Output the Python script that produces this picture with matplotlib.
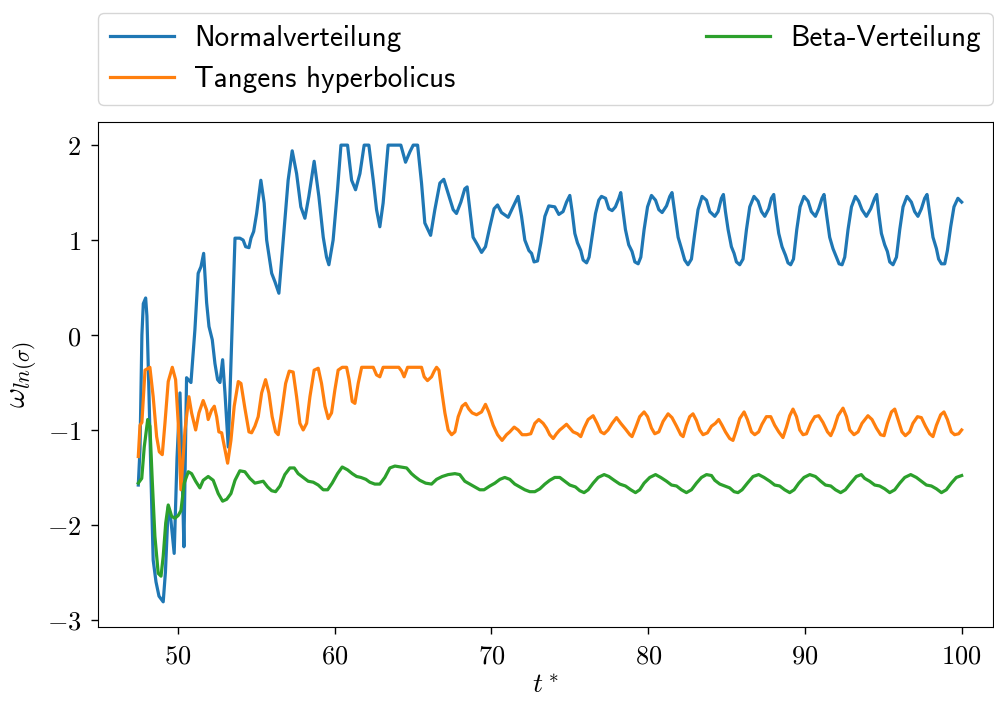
import matplotlib
matplotlib.use("Agg")
import matplotlib.pyplot as plt
from matplotlib.ticker import FuncFormatter

plt.rcParams['mathtext.fontset'] = 'cm'

# omega_ln(sigma) over t* for the three activation variants
t_normal = [47.47, 47.58, 47.70, 47.79, 47.94, 48.02, 48.15, 48.28, 48.42, 48.60,
            48.79, 49.06, 49.20, 49.38, 49.55, 49.76, 49.94, 50.13, 50.26, 50.38,
            50.55, 50.83, 51.08, 51.29, 51.47, 51.64, 51.83, 51.98, 52.19, 52.36,
            52.53, 52.68, 52.85, 53.00, 53.21, 53.42, 53.64, 53.95, 54.16, 54.32,
            54.53, 54.66, 54.83, 55.02, 55.29, 55.50, 55.66, 55.98, 56.19, 56.44,
            56.72, 57.03, 57.29, 57.57, 57.84, 58.10, 58.35, 58.69, 58.99, 59.27,
            59.48, 59.63, 59.90, 60.18, 60.40, 60.82, 61.08, 61.33, 61.61, 61.88,
            62.18, 62.46, 62.67, 62.88, 63.09, 63.41, 64.22, 64.52, 64.80, 65.01,
            65.29, 65.54, 65.75, 65.92, 66.12, 66.39, 66.71, 66.96, 67.24, 67.56,
            67.77, 68.05, 68.30, 68.45, 68.62, 68.83, 69.11, 69.37, 69.62, 69.90,
            70.17, 70.39, 70.64, 71.07, 71.38, 71.70, 71.92, 72.13, 72.39, 72.56,
            72.72, 72.94, 73.15, 73.41, 73.66, 74.04, 74.30, 74.57, 74.79, 75.00,
            75.15, 75.32, 75.49, 75.70, 75.85, 76.07, 76.23, 76.42, 76.64, 76.85,
            77.02, 77.28, 77.49, 77.70, 77.91, 78.13, 78.25, 78.40, 78.55, 78.76,
            78.97, 79.15, 79.36, 79.53, 79.74, 79.96, 80.21, 80.47, 80.68, 80.89,
            81.17, 81.38, 81.52, 81.70, 81.91, 82.16, 82.33, 82.54, 82.76, 82.97,
            83.18, 83.44, 83.72, 83.93, 84.25, 84.46, 84.67, 84.80, 84.93, 85.10,
            85.31, 85.48, 85.63, 85.84, 86.05, 86.27, 86.48, 86.75, 87.01, 87.23,
            87.44, 87.69, 87.86, 88.01, 88.14, 88.33, 88.54, 88.76, 88.92, 89.09,
            89.27, 89.48, 89.69, 89.94, 90.20, 90.41, 90.67, 90.88, 91.09, 91.22,
            91.37, 91.58, 91.79, 92.01, 92.18, 92.37, 92.54, 92.75, 92.97, 93.22,
            93.43, 93.64, 93.92, 94.20, 94.45, 94.58, 94.71, 94.88, 95.09, 95.26,
            95.41, 95.62, 95.84, 96.05, 96.26, 96.51, 96.79, 97.00, 97.21, 97.43,
            97.64, 97.79, 97.96, 98.17, 98.39, 98.53, 98.71, 98.92, 99.09, 99.30,
            99.51, 99.76, 100.0]
w_normal = [-1.58, -1.20, 0.00, 0.33, 0.39, 0.20, -0.60, -1.50, -2.37, -2.60,
            -2.75, -2.81, -2.50, -1.81, -1.95, -2.30, -1.30, -0.61, -1.40, -2.23,
            -0.45, -0.50, 0.05, 0.65, 0.72, 0.86, 0.34, 0.09, -0.05, -0.30,
            -0.47, -0.50, -0.26, -0.61, -1.18, -0.09, 1.02, 1.02, 1.00, 0.93,
            0.92, 1.02, 1.09, 1.28, 1.63, 1.39, 1.00, 0.65, 0.56, 0.44,
            1.00, 1.63, 1.94, 1.70, 1.35, 1.23, 1.46, 1.83, 1.46, 1.03,
            0.82, 0.74, 1.00, 1.53, 2.00, 2.00, 1.63, 1.53, 1.70, 2.00,
            2.00, 1.63, 1.32, 1.14, 1.39, 2.00, 2.00, 1.82, 1.93, 2.00,
            2.00, 1.60, 1.18, 1.12, 1.05, 1.32, 1.60, 1.64, 1.49, 1.32,
            1.28, 1.40, 1.54, 1.56, 1.32, 1.03, 0.95, 0.87, 0.93, 1.14,
            1.33, 1.37, 1.29, 1.24, 1.35, 1.46, 1.25, 1.00, 0.89, 0.86,
            0.77, 0.78, 0.97, 1.25, 1.36, 1.35, 1.27, 1.30, 1.40, 1.47,
            1.30, 1.07, 0.97, 0.89, 0.79, 0.76, 0.82, 1.03, 1.28, 1.42,
            1.46, 1.44, 1.33, 1.31, 1.35, 1.44, 1.50, 1.30, 1.11, 0.95,
            0.88, 0.77, 0.75, 0.82, 1.11, 1.35, 1.47, 1.42, 1.32, 1.29,
            1.36, 1.46, 1.50, 1.28, 1.03, 0.89, 0.79, 0.74, 0.80, 1.07,
            1.32, 1.46, 1.42, 1.30, 1.25, 1.30, 1.44, 1.48, 1.30, 1.11,
            0.93, 0.86, 0.77, 0.74, 0.80, 1.11, 1.35, 1.46, 1.41, 1.30,
            1.25, 1.33, 1.44, 1.48, 1.29, 1.07, 0.93, 0.84, 0.76, 0.74,
            0.80, 1.11, 1.35, 1.46, 1.41, 1.30, 1.25, 1.33, 1.44, 1.48,
            1.28, 1.03, 0.91, 0.82, 0.75, 0.74, 0.82, 1.11, 1.35, 1.46,
            1.41, 1.32, 1.25, 1.33, 1.44, 1.48, 1.28, 1.07, 0.95, 0.88,
            0.77, 0.74, 0.82, 1.11, 1.35, 1.46, 1.40, 1.30, 1.25, 1.33,
            1.44, 1.48, 1.28, 1.03, 0.91, 0.80, 0.75, 0.75, 0.89, 1.14,
            1.35, 1.44, 1.40]

t_tanh = [47.47, 47.58, 47.70, 47.90, 48.21, 48.42, 48.64, 48.81, 49.00, 49.17,
          49.38, 49.64, 49.85, 50.02, 50.19, 50.45, 50.70, 50.87, 51.13, 51.34,
          51.61, 51.83, 51.93, 52.15, 52.32, 52.47, 52.61, 52.79, 53.00, 53.17,
          53.38, 53.59, 53.85, 54.02, 54.27, 54.53, 54.70, 54.91, 55.12, 55.34,
          55.59, 55.80, 56.01, 56.23, 56.40, 56.61, 56.87, 57.10, 57.35, 57.57,
          57.78, 57.99, 58.21, 58.42, 58.69, 58.95, 59.16, 59.38, 59.59, 59.80,
          60.01, 60.22, 60.48, 60.76, 60.92, 61.12, 61.29, 61.50, 61.72, 62.46,
          62.67, 62.88, 63.09, 64.09, 64.27, 64.43, 64.65, 65.54, 65.71, 65.92,
          66.18, 66.35, 66.50, 66.65, 66.82, 67.03, 67.24, 67.46, 67.67, 67.88,
          68.13, 68.35, 68.56, 68.77, 69.05, 69.37, 69.62, 69.83, 70.11, 70.39,
          70.68, 70.96, 71.17, 71.45, 71.70, 71.96, 72.24, 72.51, 72.77, 73.02,
          73.30, 73.51, 73.72, 73.94, 74.15, 74.36, 74.51, 74.79, 75.00, 75.21,
          75.49, 75.70, 75.91, 76.17, 76.49, 76.74, 76.98, 77.19, 77.44, 77.70,
          77.98, 78.25, 78.55, 78.83, 78.97, 79.19, 79.46, 79.74, 79.96, 80.21,
          80.42, 80.68, 80.95, 81.27, 81.52, 81.81, 82.08, 82.23, 82.44, 82.65,
          82.86, 83.08, 83.29, 83.50, 83.78, 84.04, 84.29, 84.50, 84.71, 84.93,
          85.20, 85.41, 85.63, 85.84, 86.12, 86.33, 86.59, 86.80, 87.05, 87.26,
          87.54, 87.82, 88.07, 88.33, 88.60, 88.82, 89.03, 89.24, 89.46, 89.67,
          89.88, 90.10, 90.37, 90.63, 90.88, 91.15, 91.44, 91.65, 91.86, 92.11,
          92.43, 92.65, 92.86, 93.13, 93.39, 93.64, 94.02, 94.28, 94.56, 94.83,
          95.05, 95.26, 95.52, 95.73, 95.94, 96.19, 96.41, 96.68, 96.89, 97.18,
          97.43, 97.69, 97.96, 98.17, 98.39, 98.66, 98.87, 99.09, 99.34, 99.55,
          99.81, 100.0]
w_tanh = [-1.28, -0.95, -0.92, -0.37, -0.34, -0.65, -1.07, -1.23, -1.26, -0.93,
          -0.49, -0.34, -0.47, -0.93, -1.63, -1.00, -0.65, -0.82, -1.00, -0.82,
          -0.69, -0.79, -0.89, -0.79, -0.75, -0.86, -1.02, -1.03, -1.21, -1.35,
          -1.11, -0.75, -0.49, -0.51, -0.77, -1.02, -1.03, -0.96, -0.86, -0.61,
          -0.47, -0.61, -0.86, -1.02, -1.05, -0.82, -0.51, -0.38, -0.39, -0.65,
          -0.93, -1.00, -0.93, -0.65, -0.37, -0.35, -0.51, -0.75, -0.88, -0.82,
          -0.58, -0.37, -0.34, -0.34, -0.47, -0.70, -0.72, -0.51, -0.34, -0.34,
          -0.42, -0.44, -0.34, -0.34, -0.38, -0.44, -0.34, -0.34, -0.44, -0.48,
          -0.44, -0.38, -0.34, -0.37, -0.58, -0.82, -1.00, -1.05, -1.02, -0.86,
          -0.75, -0.72, -0.78, -0.82, -0.84, -0.81, -0.73, -0.81, -0.95, -1.05,
          -1.11, -1.05, -1.02, -0.97, -1.00, -1.05, -1.05, -1.04, -0.93, -0.89,
          -0.93, -0.98, -1.05, -1.09, -1.04, -1.00, -0.98, -0.94, -0.98, -1.02,
          -1.04, -1.07, -0.98, -0.89, -0.85, -0.93, -1.02, -1.04, -1.00, -0.93,
          -0.87, -0.93, -0.99, -1.05, -1.07, -0.98, -0.86, -0.81, -0.86, -0.98,
          -1.04, -1.02, -0.91, -0.83, -0.87, -0.96, -1.05, -1.07, -0.95, -0.86,
          -0.83, -0.90, -1.00, -1.05, -1.03, -0.96, -0.93, -0.89, -0.95, -1.02,
          -1.09, -1.11, -1.00, -0.88, -0.81, -0.89, -1.02, -1.05, -1.02, -0.94,
          -0.86, -0.86, -0.95, -1.02, -1.08, -0.97, -0.85, -0.78, -0.86, -1.00,
          -1.05, -1.04, -0.93, -0.86, -0.85, -0.92, -1.02, -1.06, -0.98, -0.85,
          -0.77, -0.86, -1.00, -1.05, -1.02, -0.93, -0.85, -0.89, -0.98, -1.05,
          -1.06, -0.93, -0.81, -0.78, -0.89, -1.02, -1.06, -1.02, -0.93, -0.86,
          -0.87, -0.96, -1.04, -1.07, -0.95, -0.84, -0.81, -0.89, -1.02, -1.05,
          -1.04, -1.00]

t_beta = [47.47, 47.69, 47.85, 48.07, 48.21, 48.36, 48.53, 48.74, 48.92, 49.06,
          49.22, 49.38, 49.60, 49.81, 50.02, 50.19, 50.40, 50.66, 50.87, 51.13,
          51.40, 51.61, 51.93, 52.25, 52.57, 52.85, 53.11, 53.38, 53.64, 53.95,
          54.27, 54.59, 54.91, 55.44, 55.72, 55.98, 56.23, 56.51, 56.82, 57.14,
          57.42, 57.67, 57.99, 58.31, 58.63, 58.95, 59.27, 59.55, 59.84, 60.18,
          60.48, 60.82, 61.12, 61.40, 61.67, 61.99, 62.24, 62.56, 62.88, 63.20,
          63.52, 63.84, 64.22, 64.59, 64.90, 65.11, 65.43, 65.80, 66.18, 66.50,
          66.86, 67.24, 67.67, 67.98, 68.30, 68.62, 68.94, 69.26, 69.53, 69.90,
          70.22, 70.54, 70.85, 71.17, 71.49, 71.81, 72.13, 72.45, 72.77, 73.09,
          73.41, 73.72, 74.04, 74.36, 74.68, 75.00, 75.36, 75.64, 75.91, 76.17,
          76.49, 76.81, 77.19, 77.49, 77.83, 78.19, 78.55, 78.89, 79.19, 79.46,
          79.74, 80.10, 80.47, 80.80, 81.17, 81.49, 81.81, 82.12, 82.44, 82.76,
          83.08, 83.40, 83.72, 84.04, 84.25, 84.57, 84.89, 85.20, 85.48, 85.73,
          85.99, 86.33, 86.69, 87.05, 87.39, 87.76, 88.07, 88.39, 88.71, 89.03,
          89.31, 89.61, 89.94, 90.31, 90.67, 91.01, 91.31, 91.65, 91.95, 92.28,
          92.58, 92.92, 93.28, 93.60, 93.81, 94.13, 94.45, 94.77, 95.09, 95.41,
          95.73, 96.05, 96.37, 96.75, 97.11, 97.43, 97.75, 98.07, 98.39, 98.71,
          99.02, 99.34, 99.66, 100.0]
w_beta = [-1.56, -1.51, -1.18, -0.89, -0.96, -1.53, -2.12, -2.51, -2.54, -2.33,
          -1.98, -1.79, -1.91, -1.93, -1.90, -1.85, -1.56, -1.44, -1.46, -1.54,
          -1.61, -1.53, -1.49, -1.53, -1.67, -1.75, -1.73, -1.67, -1.53, -1.43,
          -1.44, -1.51, -1.56, -1.54, -1.60, -1.64, -1.65, -1.59, -1.47, -1.40,
          -1.40, -1.46, -1.50, -1.54, -1.55, -1.58, -1.63, -1.63, -1.56, -1.46,
          -1.39, -1.42, -1.46, -1.49, -1.50, -1.52, -1.55, -1.57, -1.57, -1.50,
          -1.40, -1.38, -1.39, -1.40, -1.46, -1.49, -1.53, -1.56, -1.57, -1.52,
          -1.49, -1.47, -1.46, -1.47, -1.54, -1.57, -1.60, -1.63, -1.63, -1.59,
          -1.56, -1.52, -1.50, -1.52, -1.57, -1.60, -1.63, -1.65, -1.65, -1.62,
          -1.57, -1.53, -1.50, -1.50, -1.54, -1.58, -1.60, -1.64, -1.66, -1.63,
          -1.56, -1.50, -1.47, -1.49, -1.53, -1.57, -1.59, -1.63, -1.66, -1.63,
          -1.56, -1.50, -1.47, -1.50, -1.54, -1.58, -1.59, -1.63, -1.66, -1.63,
          -1.56, -1.50, -1.47, -1.48, -1.53, -1.57, -1.59, -1.61, -1.65, -1.66,
          -1.63, -1.56, -1.49, -1.47, -1.50, -1.54, -1.58, -1.59, -1.63, -1.66,
          -1.63, -1.56, -1.50, -1.47, -1.49, -1.54, -1.58, -1.59, -1.63, -1.66,
          -1.63, -1.56, -1.49, -1.47, -1.51, -1.54, -1.58, -1.59, -1.62, -1.66,
          -1.63, -1.56, -1.50, -1.47, -1.50, -1.54, -1.58, -1.59, -1.62, -1.66,
          -1.63, -1.56, -1.50, -1.48]

labels = ['Normalverteilung', 'Tangens hyperbolicus', 'Beta-Verteilung']
colors = ['#1f77b4', '#ff7f0e', '#2ca02c']

fig = plt.figure(figsize=(9.95, 7.02), dpi=100)
ax = fig.add_axes([0.0985, 0.107, 0.8995, 0.719])

ax.plot(t_normal, w_normal, color=colors[0], lw=2.3, label=labels[0])
ax.plot(t_tanh, w_tanh, color=colors[1], lw=2.3, label=labels[1])
ax.plot(t_beta, w_beta, color=colors[2], lw=2.3, label=labels[2])

ax.set_xlim(44.9, 102.0)
ax.set_ylim(-3.074, 2.242)
ax.set_xticks([50, 60, 70, 80, 90, 100])
ax.set_yticks([-3, -2, -1, 0, 1, 2])
fmt = FuncFormatter(lambda v, pos: '$%d$' % v if v >= 0 else r'$-%d$' % abs(v))
ax.xaxis.set_major_formatter(fmt)
ax.yaxis.set_major_formatter(fmt)
ax.tick_params(labelsize=19, length=5, width=1, pad=7)

ax.set_xlabel(r'$t^*$', fontsize=20, labelpad=1)
ax.set_ylabel(r'$\omega_{ln(\sigma)}$', fontsize=22, labelpad=6)

ax.legend(bbox_to_anchor=(0, 1.034, 1, 0.2), loc='lower left', mode='expand',
          ncol=2, borderaxespad=0, prop={'family': 'cmss10', 'size': 21},
          handlelength=2.2, handletextpad=0.7, fancybox=True, edgecolor='#cccccc')

fig.savefig('out.png', dpi=100)
